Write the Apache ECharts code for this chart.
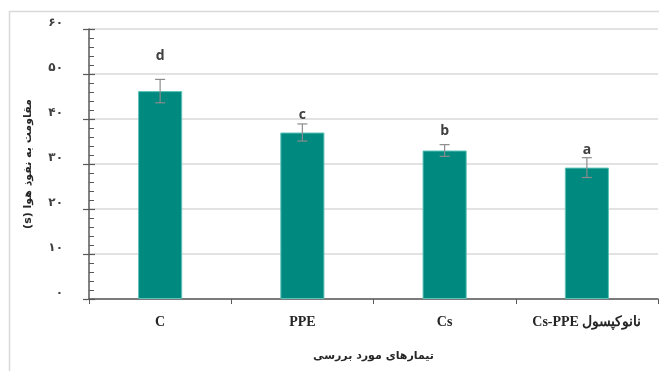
<!DOCTYPE html>
<html>
<head>
<meta charset="utf-8">
<script src="https://cdn.jsdelivr.net/npm/echarts@6/dist/echarts.min.js"></script>
<style>
  html, body { margin: 0; padding: 0; background: #fff; }
  #chart { width: 659px; height: 371px; }
</style>
</head>
<body>
<div id="chart"></div>
<script>
// Treatments and measured air-permeability resistance (s)
const categories = ['C', 'PPE', 'Cs', 'Cs-PPE نانوکپسول'];
const means = [46.2, 37.0, 33.0, 29.2];
const errors = [2.6, 1.9, 1.3, 2.2];
const groupLetters = ['d', 'c', 'b', 'a'];
const yTicks = [0, 10, 20, 30, 40, 50, 60];

// Pixel lift of each significance letter above its error-bar cap
const letterLift = [23, 9, 14, 8];

const persianDigits = '۰۱۲۳۴۵۶۷۸۹';
const toPersian = v => String(v).replace(/[0-9]/g, d => persianDigits[+d]);

const chart = echarts.init(document.getElementById('chart'));

const yMin = yTicks[0];
const yMax = yTicks[yTicks.length - 1];
const yStep = yTicks[1] - yTicks[0];

const grid = { left: 89, right: 1, top: 29, bottom: 72 };

chart.setOption({
  animation: false,
  backgroundColor: '#fff',
  graphic: [{
    type: 'rect',
    shape: { x: 9.5, y: 11.5, width: 700, height: 400 },
    style: { fill: 'none', stroke: '#d9d9d9', lineWidth: 1.5 },
    silent: true, z: -10
  }],
  grid: grid,
  xAxis: {
    type: 'category',
    data: categories,
    boundaryGap: true,
    axisLine: { lineStyle: { color: '#595959', width: 1.5 } },
    axisTick: { show: true, length: 5, lineStyle: { color: '#595959', width: 1 } },
    axisLabel: {
      margin: 16,
      color: '#262626',
      fontFamily: 'Liberation Serif',
      fontWeight: 'bold',
      fontSize: 14
    },
    name: 'تیمارهای مورد بررسی',
    nameLocation: 'middle',
    nameGap: 52,
    nameTextStyle: { color: '#262626', fontFamily: 'DejaVu Sans', fontWeight: 'bold', fontSize: 11 }
  },
  yAxis: [{
    type: 'value',
    min: yMin, max: yMax, interval: yStep,
    axisLine: { show: true, lineStyle: { color: '#595959', width: 1.5 } },
    axisTick: { show: true, length: 6, lineStyle: { color: '#595959', width: 1.2 } },
    splitLine: { show: true, lineStyle: { color: '#d9d9d9', width: 1.5 } },
    axisLabel: {
      margin: 26,
      color: '#404040',
      fontFamily: 'DejaVu Sans',
      fontWeight: 'bold',
      fontSize: 12,
      verticalAlign: 'bottom',
      formatter: v => toPersian(v)
    },
    name: '(s) مقاومت به نفوذ هوا',
    nameLocation: 'middle',
    nameGap: 55,
    nameRotate: 90,
    nameTextStyle: { color: '#262626', fontFamily: 'DejaVu Sans', fontWeight: 'bold', fontSize: 11 }
  }, {
    // inner half of the major ticks plus minor ticks, drawn on the same scale
    type: 'value',
    position: 'left',
    min: yMin, max: yMax, interval: yStep,
    axisLine: { show: false },
    axisLabel: { show: false },
    splitLine: { show: false },
    axisTick: { show: true, inside: true, length: 6, lineStyle: { color: '#595959', width: 1.2 } },
    minorTick: { show: true, splitNumber: 5, length: 5, lineStyle: { color: '#595959', width: 1 } }
  }],
  series: [{
    type: 'bar',
    data: means,
    barWidth: '31%',
    itemStyle: { color: '#00897f', borderColor: '#5cc2b8', borderWidth: 1 },
    z: 2
  }, {
    type: 'custom',
    data: means.map((m, i) => [i, m, errors[i]]),
    z: 5,
    renderItem: (params, api) => {
      const i = api.value(0);
      const m = api.value(1);
      const e = api.value(2);
      const top = api.coord([i, m + e]);
      const bot = api.coord([i, m - e]);
      const cap = 5;
      const stroke = { stroke: '#8c8c8c', lineWidth: 1.2 };
      return {
        type: 'group',
        children: [
          { type: 'line', shape: { x1: top[0], y1: top[1], x2: bot[0], y2: bot[1] }, style: stroke },
          { type: 'line', shape: { x1: top[0] - cap, y1: top[1], x2: top[0] + cap, y2: top[1] }, style: stroke },
          { type: 'line', shape: { x1: bot[0] - cap, y1: bot[1], x2: bot[0] + cap, y2: bot[1] }, style: stroke },
          {
            type: 'text',
            style: {
              x: top[0], y: top[1] - letterLift[i],
              text: groupLetters[i],
              textAlign: 'center', textVerticalAlign: 'middle',
              fill: '#404040',
              font: 'bold 14px "Open Sans"'
            }
          }
        ]
      };
    }
  }]
});
</script>
</body>
</html>
